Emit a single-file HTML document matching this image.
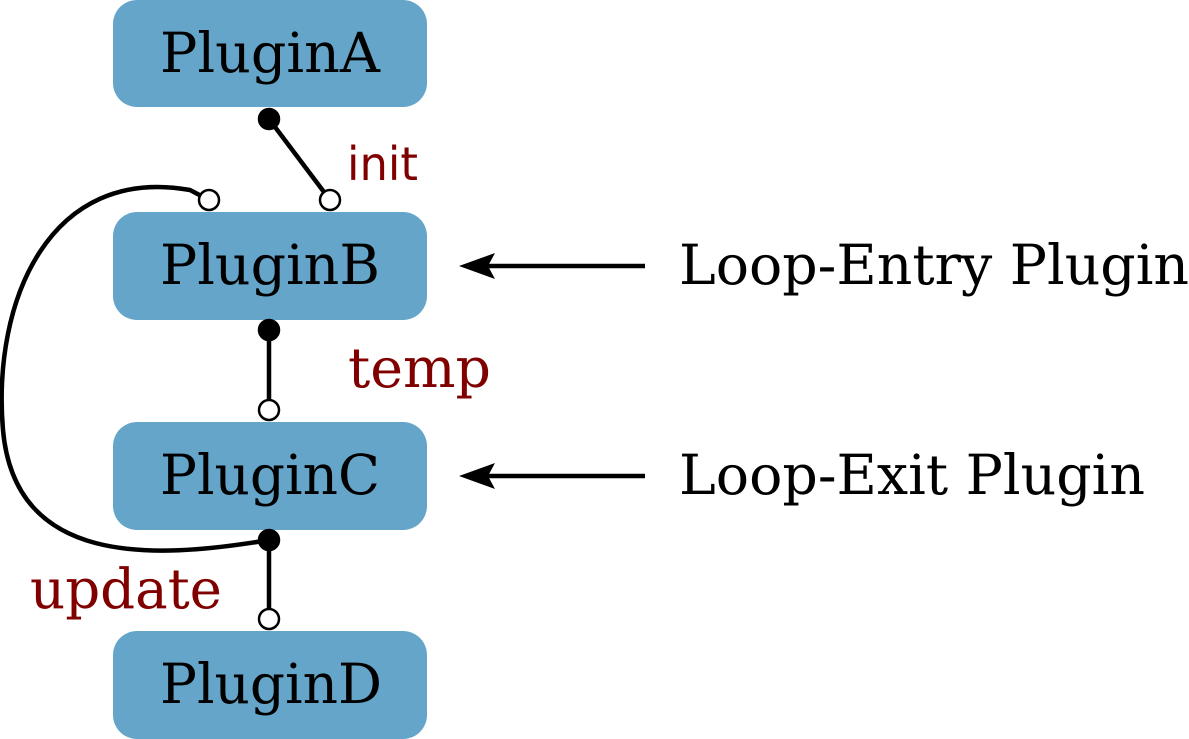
<!DOCTYPE html>
<html><head><style>body{margin:0;background:#fff}svg{display:block}</style></head><body>
<svg width="1189" height="739" viewBox="0 0 1189 739" xmlns="http://www.w3.org/2000/svg">
<g fill="#64a5c9">
<rect x="113" y="0" width="314" height="107" rx="24"/>
<rect x="113" y="212" width="314" height="108" rx="24"/>
<rect x="113" y="422" width="314" height="108" rx="24"/>
<rect x="113" y="631" width="314" height="108" rx="24"/>
</g>
<g font-family="'DejaVu Serif','Liberation Serif',serif" font-size="55" fill="#000">
<text x="160" y="72" textLength="220" lengthAdjust="spacingAndGlyphs">PluginA</text>
<text x="160" y="284" textLength="220" lengthAdjust="spacingAndGlyphs">PluginB</text>
<text x="160" y="494" textLength="220" lengthAdjust="spacingAndGlyphs">PluginC</text>
<text x="160" y="703" textLength="222" lengthAdjust="spacingAndGlyphs">PluginD</text>
</g>
<g stroke="#000" stroke-width="4.5" fill="none">
<line x1="269" y1="119" x2="330" y2="200"/>
<line x1="269" y1="330" x2="269" y2="410"/>
<line x1="269" y1="540" x2="269" y2="619"/>
<path d="M269 540 C150 560 15 565 3 430 C-8 300 50 165 190 190 L209 200"/>
<line x1="645" y1="266" x2="480" y2="266"/>
<line x1="645" y1="476" x2="480" y2="476"/>
</g>
<polygon points="459,266 495,253 488,266 495,279" fill="#000"/>
<polygon points="459,476 495,463 488,476 495,489" fill="#000"/>
<g stroke="#000" stroke-width="2.5">
<circle cx="269" cy="119" r="10" fill="#000"/>
<circle cx="269" cy="330" r="10" fill="#000"/>
<circle cx="269" cy="540" r="10" fill="#000"/>
<circle cx="330" cy="200" r="10" fill="#fff"/>
<circle cx="209" cy="200" r="10" fill="#fff"/>
<circle cx="269" cy="410" r="10" fill="#fff"/>
<circle cx="269" cy="619" r="10" fill="#fff"/>
</g>
<text x="347" y="180" font-family="'DejaVu Sans','Liberation Sans',sans-serif" font-size="46" fill="#800000" textLength="71" lengthAdjust="spacingAndGlyphs">init</text>
<g font-family="'DejaVu Serif','Liberation Serif',serif" font-size="55" fill="#800000">
<text x="348" y="387" textLength="143" lengthAdjust="spacingAndGlyphs">temp</text>
<text x="30" y="608" textLength="192" lengthAdjust="spacingAndGlyphs">update</text>
</g>
<g font-family="'DejaVu Serif','Liberation Serif',serif" font-size="55" fill="#000">
<text x="679" y="284" textLength="510" lengthAdjust="spacingAndGlyphs">Loop-Entry Plugin</text>
<text x="679" y="494" textLength="466" lengthAdjust="spacingAndGlyphs">Loop-Exit Plugin</text>
</g>
</svg>
</body></html>
